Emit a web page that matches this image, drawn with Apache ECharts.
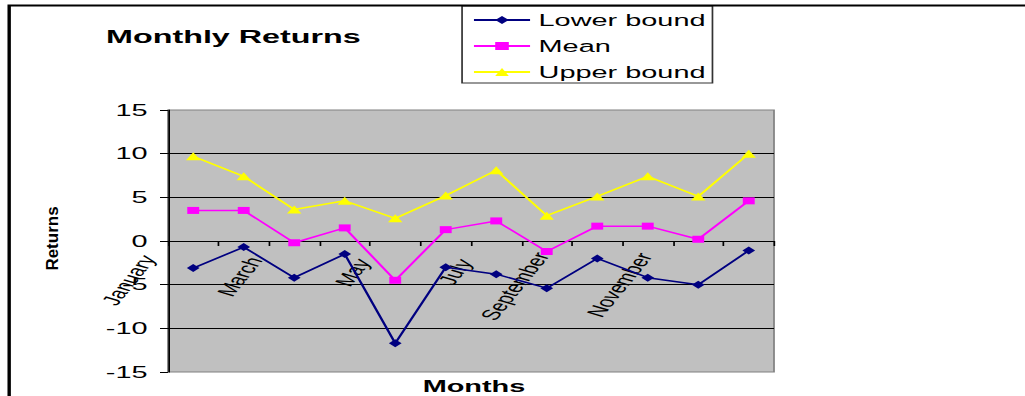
<!DOCTYPE html>
<html>
<head>
<meta charset="utf-8">
<script src="https://cdn.jsdelivr.net/npm/echarts@6/dist/echarts.min.js"></script>
<style>
  html, body { margin: 0; padding: 0; background: #ffffff; overflow: hidden; }
  #wrap { width: 1025px; height: 396px; overflow: hidden; }
  /* the chart is laid out narrow and widened horizontally */
  #chart { width: 603px; height: 396px; transform: scaleX(1.7); transform-origin: 0 0; }
</style>
</head>
<body>
<div id="wrap"><div id="chart"></div></div>
<script>
const STRETCH = 1.7;

const months = ['January', 'February', 'March', 'April', 'May', 'June',
  'July', 'August', 'September', 'October', 'November', 'December'];
const lowerBound = [-3.1, -0.7, -4.2, -1.5, -11.7, -3.0, -3.8, -5.4, -2.0, -4.2, -5.0, -1.1];
const meanReturn = [3.5, 3.5, -0.2, 1.5, -4.5, 1.3, 2.3, -1.2, 1.7, 1.7, 0.2, 4.6];
const upperBound = [9.7, 7.4, 3.6, 4.6, 2.6, 5.2, 8.1, 2.9, 5.1, 7.4, 5.1, 10.0];
const yTicks = { min: -15, max: 15, interval: 5 };

const FONT = "'Liberation Sans', Arial, sans-serif";
const MONTH_FONT_SIZE = 15;

// Longer month names sit further left: the line height of each slanted
// label grows with its text width.
const measureCtx = document.createElement('canvas').getContext('2d');
measureCtx.font = MONTH_FONT_SIZE + "px 'Liberation Sans', Arial, sans-serif";
const monthRich = {};
months.forEach((name, i) => {
  monthRich['m' + i] = {
    fontFamily: FONT,
    fontSize: MONTH_FONT_SIZE,
    color: '#000',
    lineHeight: 23.4 + 0.667 * measureCtx.measureText(name).width
  };
});

const chart = echarts.init(document.getElementById('chart'), null, { renderer: 'svg' });

chart.setOption({
  animation: false,
  backgroundColor: '#ffffff',
  title: {
    text: 'Monthly Returns',
    left: 62.4,
    top: 27,
    padding: 0,
    textStyle: { fontFamily: FONT, fontSize: 19, fontWeight: 'bold', color: '#000' }
  },
  legend: {
    orient: 'vertical',
    left: 271.8,
    top: 6,
    padding: [5.5, 4, 2.5, 6],
    itemWidth: 33,
    itemHeight: 10,
    itemGap: 9,
    borderColor: '#333',
    borderWidth: 1,
    backgroundColor: '#fff',
    textStyle: { fontFamily: FONT, fontSize: 17, color: '#000' },
    data: ['Lower bound', 'Mean', 'Upper bound']
  },
  grid: {
    left: 98.8,
    top: 110,
    width: 356.5,
    height: 262,
    outerBoundsMode: 'none',
    containLabel: false,
    show: true,
    backgroundColor: '#c0c0c0',
    borderColor: '#808080',
    borderWidth: 1
  },
  xAxis: {
    type: 'category',
    data: months,
    boundaryGap: true,
    axisLine: { onZero: true, lineStyle: { color: '#000', width: 1 } },
    axisTick: { show: true, interval: 0, length: 5, lineStyle: { color: '#000' } },
    axisLabel: {
      interval: 1,
      rotate: 64,
      // labels hang just under the zero line, up-left of each month
      margin: -103,
      verticalAlign: 'bottom',
      hideOverlap: false,
      fontFamily: FONT,
      fontSize: MONTH_FONT_SIZE,
      color: '#000',
      formatter: (value, index) => '{m' + index + '|' + value + '}',
      rich: monthRich
    },
    splitLine: { show: false }
  },
  yAxis: {
    type: 'value',
    min: yTicks.min,
    max: yTicks.max,
    interval: yTicks.interval,
    axisLine: { show: true, onZero: false, lineStyle: { color: '#000', width: 1 } },
    axisTick: { show: true, length: 4.7, lineStyle: { color: '#000' } },
    axisLabel: { margin: 12, fontFamily: FONT, fontSize: 17, color: '#000' },
    splitLine: { show: true, showMinLine: false, showMaxLine: false, lineStyle: { color: '#000', width: 1 } }
  },
  series: [
    {
      name: 'Lower bound',
      type: 'line',
      data: lowerBound,
      symbol: 'diamond',
      symbolSize: [7.5, 8],
      lineStyle: { color: '#000080', width: 1.5 },
      itemStyle: { color: '#000080' }
    },
    {
      name: 'Mean',
      type: 'line',
      data: meanReturn,
      symbol: 'rect',
      symbolSize: 7,
      lineStyle: { color: '#ff00ff', width: 1.5 },
      itemStyle: { color: '#ff00ff' }
    },
    {
      name: 'Upper bound',
      type: 'line',
      data: upperBound,
      symbol: 'triangle',
      symbolSize: [8.5, 8],
      lineStyle: { color: '#ffff00', width: 1.5 },
      itemStyle: { color: '#ffff00' }
    }
  ],
  graphic: [
    {
      type: 'rect',
      silent: true,
      z: 100,
      shape: { x: 5.4, y: 5.5, width: 1000, height: 1000 },
      style: { fill: 'none', stroke: '#000', lineWidth: 2 }
    },
    {
      type: 'text',
      x: 30.6,
      y: 238.5,
      rotation: Math.PI / 2,
      scaleY: 1 / STRETCH,
      style: {
        text: 'Returns',
        font: "bold 17px 'Liberation Sans', Arial, sans-serif",
        fill: '#000',
        align: 'center',
        verticalAlign: 'middle'
      }
    },
    {
      type: 'text',
      x: 278.8,
      y: 386,
      style: {
        text: 'Months',
        font: "bold 17px 'Liberation Sans', Arial, sans-serif",
        fill: '#000',
        align: 'center',
        verticalAlign: 'middle'
      }
    }
  ]
});
</script>
</body>
</html>
